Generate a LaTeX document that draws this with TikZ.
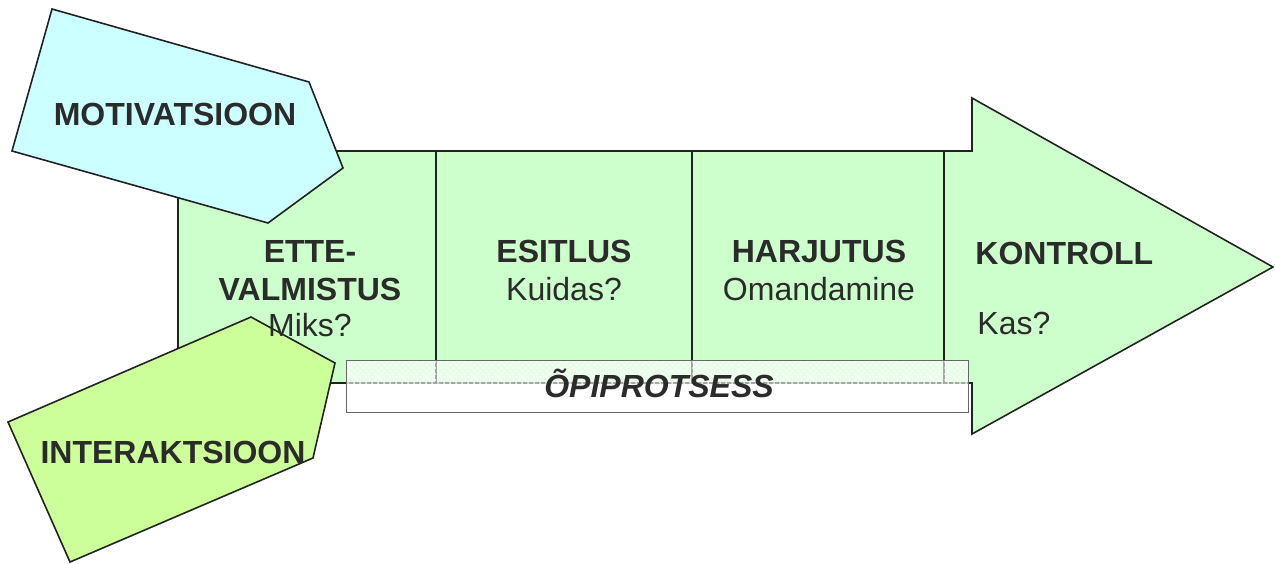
\documentclass[tikz,border=0pt]{standalone}
\usepackage{fontspec}
\setmainfont{Liberation Sans}
\usetikzlibrary{patterns}
\definecolor{arrowgreen}{HTML}{CCFFCC}
\definecolor{motivcyan}{HTML}{CCFFFF}
\definecolor{interlime}{HTML}{CCFF99}
\definecolor{inkcol}{HTML}{222222}
\definecolor{textcol}{HTML}{2B2B2B}
\tikzset{
  outline/.style={draw=inkcol, line width=0.8pt, line join=miter},
  lbl/.style={text=textcol, inner sep=0pt, font=\fontsize{16}{19}\selectfont, anchor=base},
  bold/.style={lbl, font=\fontsize{16}{19}\selectfont\bfseries},
}
\begin{document}
\begin{tikzpicture}[x=0.5pt, y=-0.5pt]
\useasboundingbox (0,0) rectangle (1275,563);

% main process arrow
\path[outline, fill=arrowgreen]
  (178,151) -- (972,151) -- (972,98) -- (1273,267) -- (972,434)
  -- (972,383) -- (178,383) -- cycle;
% stage dividers
\coordinate (d1t) at (436,151); \coordinate (d1b) at (436,383);
\coordinate (d2t) at (692,151); \coordinate (d2b) at (692,383);
\coordinate (d3t) at (944,151); \coordinate (d3b) at (944,383);
\draw[inkcol, line width=0.8pt] (d1t) -- (d1b) (d2t) -- (d2b) (d3t) -- (d3b);

% motivation pentagon
\path[outline, fill=motivcyan]
  (52,9) -- (309,82) -- (343,168) -- (268,223) -- (12,151) -- cycle;
% interaction pentagon
\path[outline, fill=interlime]
  (251,317) -- (335,363) -- (313,458) -- (70,562) -- (8,422) -- cycle;

% learning process band
\path[fill=white, fill opacity=0.6] (346,360) rectangle (968,412);
\path[pattern=crosshatch dots, pattern color=white] (346,360) rectangle (968,383);
\draw[gray!80!black, line width=0.5pt] (346,360) rectangle (968,412);

% labels
\node[bold] (motiv) at (175,125) {MOTIVATSIOON};
\node[bold] (inter) at (173,463) {INTERAKTSIOON};

\node[bold] (ette1) at (310,262) {ETTE-};
\node[bold] (ette2) at (310,300) {VALMISTUS};
\node[lbl]  (ette3) at (310,336) {Miks?};

\node[bold] (esit1) at (564,262) {ESITLUS};
\node[lbl]  (esit2) at (564,300) {Kuidas?};

\node[bold] (harj1) at (819,262) {HARJUTUS};
\node[lbl]  (harj2) at (819,300) {Omandamine};

\node[bold, anchor=base west] (kont1) at (975,264) {KONTROLL};
\node[lbl, anchor=base west]  (kont2) at (977,334) {Kas?};

\node[lbl, font=\fontsize{16}{19}\selectfont\bfseries\itshape] (opi) at (659,397) {ÕPIPROTSESS};
\end{tikzpicture}
\end{document}
